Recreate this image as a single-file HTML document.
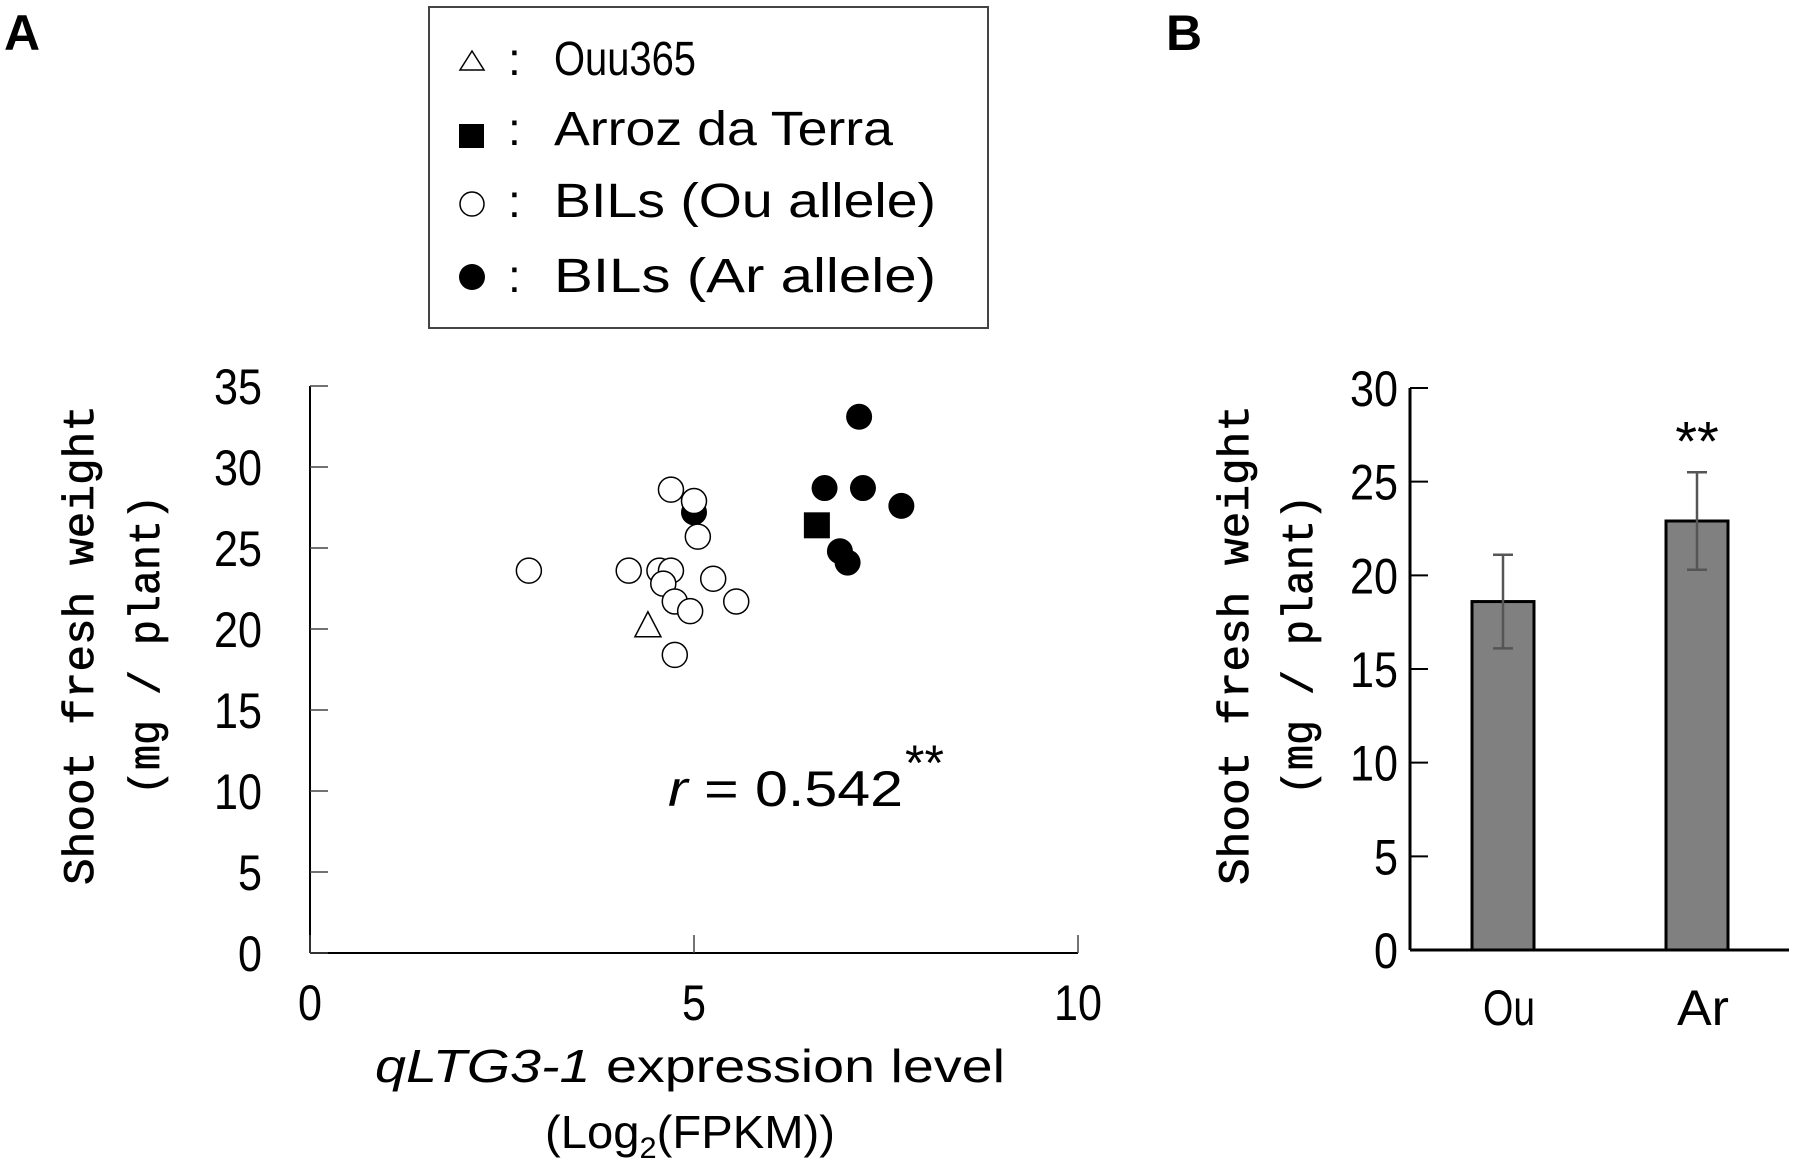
<!DOCTYPE html>
<html><head><meta charset="utf-8"><style>
html,body{margin:0;padding:0;background:#fff;}
svg{display:block;}
text{font-family:"Liberation Sans Narrow","Liberation Sans",sans-serif;fill:#000;}
.mono{font-family:"Liberation Mono",monospace;stroke:#000;stroke-width:0.7;}
</style></head><body>
<svg id="fig" width="1805" height="1163" viewBox="0 0 1805 1163" xmlns="http://www.w3.org/2000/svg">
<text x="4" y="50" font-size="50" font-weight="bold" style="font-family:'Liberation Sans',sans-serif">A</text>
<text x="1166" y="50" font-size="50" font-weight="bold" style="font-family:'Liberation Sans',sans-serif">B</text>

<g>
<rect x="429" y="7" width="559" height="321" fill="none" stroke="#444" stroke-width="2"/>
<g>
<polygon points="472,51 460,70 484,70" fill="#fff" stroke="#000" stroke-width="1.5"/>
<text x="508" y="75" font-size="46">:</text>
<text x="554" y="75" font-size="48" textLength="142" lengthAdjust="spacingAndGlyphs">Ouu365</text></g>
<g>
<rect x="459" y="124" width="25" height="24" fill="#000"/>
<text x="508" y="145" font-size="46">:</text>
<text x="554" y="145" font-size="48" textLength="339" lengthAdjust="spacingAndGlyphs">Arroz da Terra</text></g>
<g>
<circle cx="472" cy="204" r="12" fill="#fff" stroke="#000" stroke-width="1.5"/>
<text x="508" y="217" font-size="46">:</text>
<text x="554" y="217" font-size="48" textLength="382" lengthAdjust="spacingAndGlyphs">BILs (Ou allele)</text></g>
<g>
<circle cx="472" cy="277" r="13" fill="#000"/>
<text x="508" y="292" font-size="46">:</text>
<text x="554" y="292" font-size="48" textLength="382" lengthAdjust="spacingAndGlyphs">BILs (Ar allele)</text></g>
</g>

<g id="plotA"></g>
<g id="plotB"></g>

<g transform="translate(79,645) rotate(-90)">
<text x="0" y="14" font-size="44" text-anchor="middle" class="mono" textLength="480" lengthAdjust="spacingAndGlyphs">Shoot fresh weight</text>
<text x="0" y="80" font-size="44" text-anchor="middle" class="mono" textLength="300" lengthAdjust="spacingAndGlyphs">(mg / plant)</text>
</g>
<g transform="translate(1234,645) rotate(-90)">
<text x="0" y="14" font-size="44" text-anchor="middle" class="mono" textLength="480" lengthAdjust="spacingAndGlyphs">Shoot fresh weight</text>
<text x="0" y="78" font-size="44" text-anchor="middle" class="mono" textLength="300" lengthAdjust="spacingAndGlyphs">(mg / plant)</text>
</g>
<g>
<text x="690" y="1082" font-size="46" text-anchor="middle" textLength="630" lengthAdjust="spacingAndGlyphs"><tspan font-style="italic">qLTG3-1</tspan> expression level</text>
<text x="690" y="1148" font-size="46" text-anchor="middle" textLength="290" lengthAdjust="spacingAndGlyphs">(Log<tspan font-size="30" dy="10">2</tspan><tspan dy="-10">(FPKM))</tspan></text>
</g>
<g>
<text x="668" y="806" font-size="50" textLength="235" lengthAdjust="spacingAndGlyphs"><tspan font-style="italic">r</tspan> = 0.542</text>
<text x="905" y="780" font-size="50">**</text>
</g>

<script>
const xTicks=[0,5,10];
const yTicksA=[0,5,10,15,20,25,30,35];
const ouX=[2.85,4.15,4.55,4.7,4.6,4.7,5.0,5.05,4.75,4.95,5.25,5.55,4.75];
const ouY=[23.6,23.6,23.6,23.6,22.8,28.6,27.9,25.7,21.7,21.1,23.1,21.7,18.4];
const arX=[5.0,6.7,7.15,7.2,7.7,6.9,7.0];
const arY=[27.2,28.7,33.1,28.7,27.6,24.8,24.1];
const parentArX=[6.6], parentArY=[26.4];
const parentOuX=[4.4], parentOuY=[20.2];
const barCats=["Ou","Ar"];
const barVals=[18.6,22.9];
const barErr=[2.5,2.6];
const yTicksB=[0,5,10,15,20,25,30];

const NS="http://www.w3.org/2000/svg";
function mk(tag,attrs,parent){const e=document.createElementNS(NS,tag);for(const k in attrs)e.setAttribute(k,attrs[k]);parent.appendChild(e);return e;}
function numLabel(parent,x,y,anchor,t){
  const s=String(t);
  const tx=mk('text',{x:x,y:y,'font-size':50,'text-anchor':anchor,textLength:s.length*24,lengthAdjust:'spacingAndGlyphs'},parent);
  tx.textContent=s;
  return tx;
}

// Panel A
const A=document.getElementById('plotA');
const ax0=310,ax1=1078,ay0=953,ay1=386;
const sx=v=>ax0+(v-0)/(10-0)*(ax1-ax0);
const sy=v=>ay0-(v-0)/(35-0)*(ay0-ay1);
let e=mk('line',{x1:ax0,y1:ay0,x2:ax1,y2:ay0,stroke:'#000','stroke-width':2},A);

e=mk('line',{x1:ax0,y1:ay0,x2:ax0,y2:ay1,stroke:'#000','stroke-width':2},A);

yTicksA.forEach(t=>{
  mk('line',{x1:ax0,y1:sy(t),x2:ax0+18,y2:sy(t),stroke:'#444','stroke-width':1.5},A);
  const tx=numLabel(A,ax0-48,sy(t)+18,'end',t);
  
  
});
xTicks.forEach(t=>{
  mk('line',{x1:sx(t),y1:ay0,x2:sx(t),y2:ay0-18,stroke:'#444','stroke-width':1.5},A);
  const tx=numLabel(A,sx(t),1020,'middle',t);
  
  
});
arX.forEach((x,i)=>{
  const c=mk('circle',{cx:sx(x),cy:sy(arY[i]),r:13,fill:'#000'},A);
  
  
});
ouX.forEach((x,i)=>{
  const c=mk('circle',{cx:sx(x),cy:sy(ouY[i]),r:12.5,fill:'#fff',stroke:'#000','stroke-width':1.5},A);
  
  
});
parentArX.forEach((x,i)=>{
  const r=mk('rect',{x:sx(x)-13,y:sy(parentArY[i])-13,width:26,height:26,fill:'#000'},A);
  
  
});
parentOuX.forEach((x,i)=>{
  const X=sx(x),Y=sy(parentOuY[i]);
  const p=mk('polygon',{points:`${X},${Y-14} ${X-13},${Y+11} ${X+13},${Y+11}`,fill:'#fff',stroke:'#000','stroke-width':1.5},A);
  
  
});

// Panel B
const B=document.getElementById('plotB');
const bx0=1410,bx1=1789,by0=950,by1=388;
const by=v=>by0-(v-0)/(30-0)*(by0-by1);
const centers=[1503,1697];
const bw=62;
yTicksB.forEach(t=>{
  mk('line',{x1:bx0,y1:by(t),x2:bx0+18,y2:by(t),stroke:'#000','stroke-width':2},B);
  const tx=numLabel(B,bx0-12,by(t)+18,'end',t);
  
  
});
barVals.forEach((v,i)=>{
  const cx=centers[i];
  const r=mk('rect',{x:cx-bw/2,y:by(v),width:bw,height:by0-by(v),fill:'#808080',stroke:'#000','stroke-width':3},B);
  
  
  const g=mk('g',{stroke:'#555','stroke-width':2.5},B);
  
  
  mk('line',{x1:cx,y1:by(v-barErr[i]),x2:cx,y2:by(v+barErr[i])},g);
  mk('line',{x1:cx-10,y1:by(v+barErr[i]),x2:cx+10,y2:by(v+barErr[i])},g);
  mk('line',{x1:cx-10,y1:by(v-barErr[i]),x2:cx+10,y2:by(v-barErr[i])},g);
  const tx=mk('text',{x:cx+6,y:1025,'font-size':50,'text-anchor':'middle',textLength:52,lengthAdjust:'spacingAndGlyphs'},B);
  tx.textContent=barCats[i];
  
  
});
e=mk('line',{x1:bx0,y1:by0,x2:bx1,y2:by0,stroke:'#000','stroke-width':3},B);

e=mk('line',{x1:bx0,y1:by0,x2:bx0,y2:by1,stroke:'#000','stroke-width':3},B);

const st=mk('text',{x:centers[1],y:by(barVals[1]+barErr[1])-12,'font-size':56,'text-anchor':'middle'},B);
st.textContent='**';


</script>
</svg>
</body></html>
